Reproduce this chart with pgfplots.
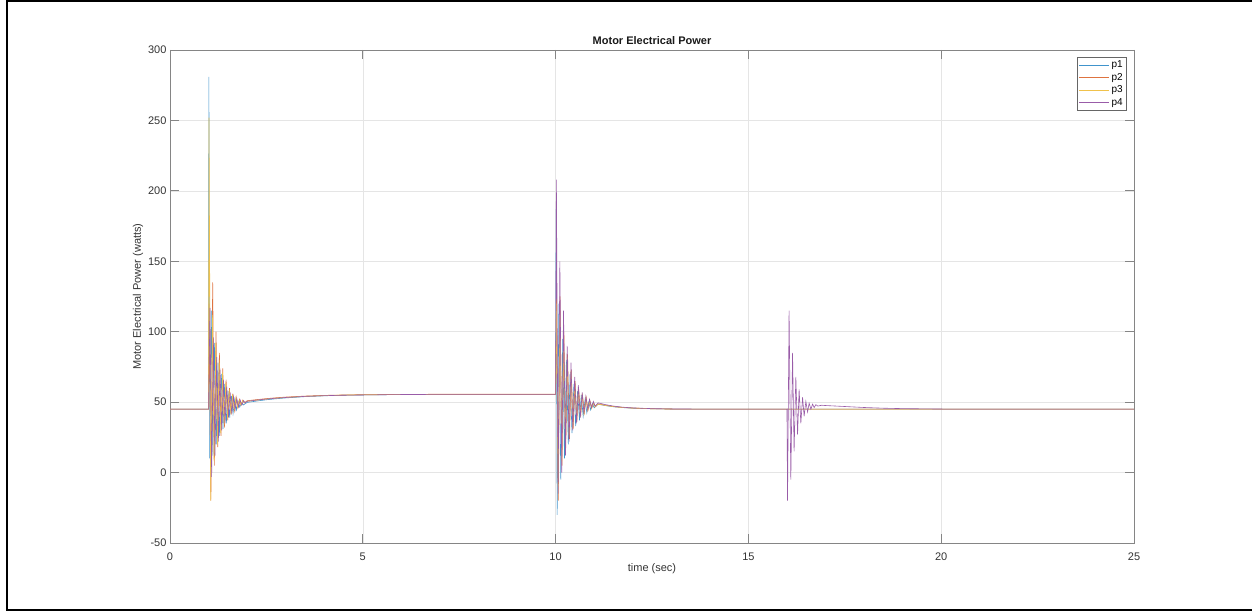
\documentclass[border=0pt]{standalone}
\usepackage{fontspec}
\setmainfont{Liberation Sans}
\usepackage{pgfplots}
\pgfplotsset{compat=1.18}

% MATLAB default line colours, slightly softened
\definecolor{mlblue}{rgb}{0.25,0.58,0.80}
\definecolor{mlorange}{rgb}{0.87,0.45,0.25}
\definecolor{mlyellow}{rgb}{0.94,0.76,0.30}
\definecolor{mlpurple}{rgb}{0.60,0.36,0.66}
\definecolor{axcol}{gray}{0.52}
\definecolor{txtcol}{gray}{0.2}

\begin{document}
\begin{tikzpicture}[x=1pt,y=1pt]
\useasboundingbox (0,0) rectangle (1252,611);
% page frame
\draw[line width=2pt] (1256,609.6) -- (7,609.6) -- (7,1) -- (1256,1);

\begin{axis}[
  at={(170pt,68pt)}, anchor=south west,
  scale only axis, width=964pt, height=493pt,
  xmin=0, xmax=25, ymin=-50, ymax=300,
  xtick={0,5,...,25}, ytick={-50,0,...,300},
  tick align=inside, major tick length=9pt,
  grid=major,
  grid style={draw=black!10, line width=0.6pt},
  axis line style={draw=axcol, line width=0.8pt},
  every tick/.style={draw=axcol, line width=0.8pt},
  tick label style={font=\fontsize{11}{13}\selectfont, text=txtcol},
  xticklabel style={yshift=-6pt},
  /pgf/number format/assume math mode=true,
  title={Motor Electrical Power},
  title style={font=\fontsize{11}{13}\selectfont\bfseries, text=black!90,
    at={(axis description cs:0.5,1.0061)}, anchor=center},
  xlabel={time (sec)},
  xlabel style={font=\fontsize{11}{13}\selectfont, text=txtcol,
    at={(axis description cs:0.5,-0.0527)}, anchor=center},
  ylabel={Motor Electrical Power (watts)},
  ylabel style={font=\fontsize{11}{13}\selectfont, text=txtcol,
    at={(axis description cs:-0.0332,0.5)}, anchor=center},
  legend cell align=left,
  legend style={at={(rel axis cs:1,1)}, anchor=north east,
    xshift=-7pt, yshift=-7pt,
    draw=black!60, line width=0.6pt, fill=white,
    font=\fontsize{10}{11.5}\selectfont,
    inner xsep=2pt, inner ysep=1.5pt, row sep=0pt},
  legend image code/.code={\draw (0pt,0pt) -- (30pt,0pt);},
  every axis plot/.append style={line width=0.6pt},
]

% p1
\addplot[mlblue] coordinates {
(0,45) (1.0,45) (1.008,281) (1.03,10) (1.07,115) (1.113,12) (1.157,92) (1.2,20)
(1.244,78) (1.287,26) (1.331,70) (1.374,31) (1.418,63) (1.461,35) (1.505,58)
(1.548,39) (1.592,54.5) (1.635,42) (1.679,52) (1.722,44.5) (1.766,50.5)
(1.809,46.5) (1.853,49.5) (1.9,48) (2.0,49.8) (2.25,50.8) (2.5,51.7) (2.75,52.4)
(3,53) (3.5,53.9) (4,54.5) (4.5,54.9) (5,55.1) (6,55.4) (7,55.5) (10.0,55.5)
(10.015,187) (10.04,-30) (10.085,120) (10.135,-5) (10.185,95) (10.23,10) (10.28,80)
(10.33,20) (10.375,70) (10.425,28) (10.475,63) (10.52,33) (10.57,58) (10.62,37)
(10.665,55) (10.715,40) (10.765,52) (10.81,42.5) (10.86,50) (10.91,44.5) (10.955,49)
(11.0,46) (11.1,48.5) (11.3,47.5) (11.5,46.7) (11.75,46.1) (12,45.7)
(12.5,45.3) (13,45.1) (14,45) (25,45)
};
% p2
\addplot[mlorange] coordinates {
(0,45) (1.0,45) (1.015,120) (1.06,-20) (1.107,135) (1.15,5) (1.194,100) (1.237,18)
(1.281,85) (1.324,26) (1.368,74) (1.411,32) (1.455,66) (1.498,37) (1.542,60)
(1.585,41) (1.629,56) (1.672,44) (1.716,53.5) (1.759,46) (1.803,52) (1.846,48)
(1.89,51.5) (1.933,49.5) (2.0,51) (2.25,51.8) (2.5,52.5) (2.75,53.1) (3,53.6)
(3.5,54.3) (4,54.8) (4.5,55.1) (5,55.3) (6,55.5) (7,55.6) (10.0,55.6)
(10.025,130) (10.07,-20) (10.115,125) (10.165,5) (10.215,100) (10.26,15)
(10.31,84) (10.36,24) (10.405,73) (10.455,31) (10.505,65) (10.55,36) (10.6,59)
(10.65,40) (10.695,55.5) (10.745,42.5) (10.795,53) (10.84,44.5) (10.89,51)
(10.94,46) (10.985,49.5) (11.03,47) (11.1,48.8) (11.3,47.8) (11.5,46.9)
(11.75,46.2) (12,45.8) (12.5,45.3) (13,45.1) (14,45) (25,45)
};
% p3
\addplot[mlyellow] coordinates {
(0,45) (1.0,45) (1.012,252) (1.055,-20) (1.1,112) (1.143,8) (1.187,92) (1.23,20)
(1.274,80) (1.317,28) (1.361,71) (1.404,34) (1.448,64) (1.491,38.5) (1.535,59)
(1.578,42) (1.622,55.5) (1.665,44.5) (1.709,53) (1.752,46.5) (1.796,51.5)
(1.839,48) (1.883,51) (1.926,49.5) (2.0,50.6) (2.25,51.4) (2.5,52.2) (2.75,52.8)
(3,53.3) (3.5,54.1) (4,54.6) (4.5,55) (5,55.2) (6,55.4) (7,55.5) (10.0,55.5)
(10.02,120) (10.065,-10) (10.11,110) (10.16,8) (10.205,95) (10.255,17) (10.3,82)
(10.35,25) (10.4,72) (10.445,31) (10.495,65) (10.545,36) (10.59,60) (10.64,39.5)
(10.69,56) (10.735,42) (10.785,53) (10.835,44) (10.88,51) (10.93,45.5)
(10.98,49.5) (11.025,46.5) (11.1,48.6) (11.3,47.6) (11.5,46.8) (11.75,46.2)
(12,45.8) (12.5,45.3) (13,45.1) (14,45) (25,45)
};
% p4
\addplot[mlpurple] coordinates {
(0,45) (1.0,45) (1.037,117) (1.08,-3) (1.124,96) (1.167,12) (1.211,82) (1.254,22)
(1.298,73) (1.341,30) (1.385,66) (1.428,35) (1.472,61) (1.515,39) (1.559,57)
(1.602,42) (1.646,54) (1.689,44.5) (1.733,52.5) (1.776,46.5) (1.82,51.5)
(1.863,48) (1.907,51) (1.95,49.5) (2.0,50.6) (2.25,51.5) (2.5,52.2) (2.75,52.8)
(3,53.3) (3.5,54.1) (4,54.6) (4.5,54.9) (5,55.1) (6,55.4) (7,55.5) (10.0,55.5)
(10.02,208) (10.065,-15) (10.11,150) (10.16,0) (10.205,115) (10.255,12) (10.3,90)
(10.35,22) (10.4,78) (10.445,30) (10.495,68) (10.545,35) (10.59,62) (10.64,39)
(10.69,57) (10.735,42) (10.785,54) (10.835,44.5) (10.88,52) (10.93,46)
(10.98,50.5) (11.025,47) (11.1,49.5) (11.3,48.2) (11.5,47.2) (11.75,46.4)
(12,45.9) (12.5,45.4) (13,45.15) (14,45.05) (15,45) (16.0,45)
(16.015,-20) (16.055,115) (16.1,-5) (16.145,85) (16.185,15) (16.23,68)
(16.275,27) (16.315,59) (16.36,35) (16.405,53.5) (16.445,40) (16.49,50.5)
(16.535,43) (16.575,49.3) (16.62,45) (16.665,48.6) (16.705,46.2) (16.75,48.2)
(16.8,47.2) (16.9,47.8) (17,47.6) (17.5,46.9) (18,46.2) (18.5,45.7) (19,45.4)
(20,45.1) (21,45) (25,45)
};
\legend{p1,p2,p3,p4}
\end{axis}
\end{tikzpicture}
\end{document}
